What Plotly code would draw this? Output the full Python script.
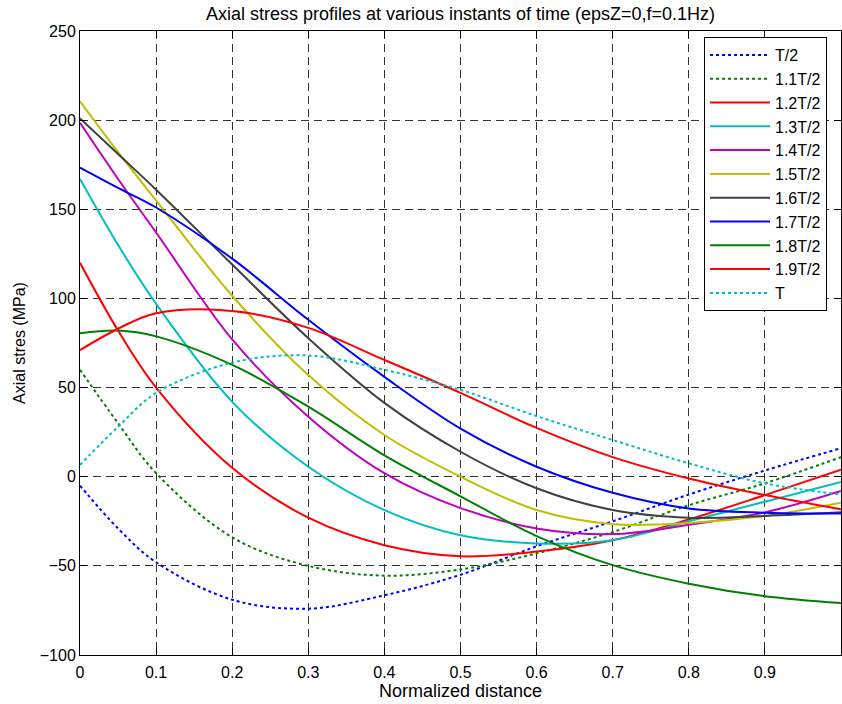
import plotly.graph_objects as go

x_pos = [0, 0.05, 0.1, 0.2, 0.3, 0.4, 0.5, 0.6, 0.7, 0.8, 0.9, 1.0]

s_T2   = [-5, -29, -48, -69, -74, -66.5, -55, -39, -25, -10, 3.5, 16]
s_11T2 = [60, 30, 2, -34, -50, -55.5, -52, -43, -31, -16, -3.7, 11]
s_12T2 = [120, 82, 50, 5, -23, -38.4, -44.6, -42, -35.6, -24, -10.3, 4]
s_13T2 = [167, 130, 97, 42, 5.6, -18.7, -32.8, -37.4, -35.6, -25, -14, -3]
s_14T2 = [198.5, 167, 137, 77, 33.7, 2, -17.6, -29, -32.2, -27, -20, -8]
s_15T2 = [210.5, 182, 155, 101.5, 57, 23.4, 0, -18.7, -26.6, -26, -22, -14.6]
s_16T2 = [201, 181, 161, 119, 77.7, 41.4, 14, -6.5, -18.7, -23, -22, -20]
s_17T2 = [173.4, 162, 151, 122.3, 88, 56, 27, 5.6, -9, -17.8, -20.2, -20.6]
s_18T2 = [80.5, 82, 78.7, 62.7, 39.3, 12, -11, -33.3, -49.6, -60, -67, -70.8]
s_19T2 = [71, 83, 91.7, 93, 83.5, 65.5, 47, 27.4, 11, -1, -10.3, -18.3]
s_T    = [6.6, 28, 47, 64, 68, 60, 48.7, 34, 20.6, 7.5, -3.7, -10]

names = ["T/2", "1.1T/2", "1.2T/2", "1.3T/2", "1.4T/2", "1.5T/2",
         "1.6T/2", "1.7T/2", "1.8T/2", "1.9T/2", "T"]
series = [s_T2, s_11T2, s_12T2, s_13T2, s_14T2, s_15T2,
          s_16T2, s_17T2, s_18T2, s_19T2, s_T]
colors = ["#0000ff", "#008000", "#ff0000", "#00bfbf", "#bf00bf", "#bfbf00",
          "#404040", "#0000ff", "#008000", "#ff0000", "#00bfbf"]
dashes = ["dot", "dot", "solid", "solid", "solid", "solid",
          "solid", "solid", "solid", "solid", "dot"]

x_ticks = [0, 0.1, 0.2, 0.3, 0.4, 0.5, 0.6, 0.7, 0.8, 0.9, 1]
x_ticktext = ["0", "0.1", "0.2", "0.3", "0.4", "0.5", "0.6", "0.7", "0.8", "0.9", "1"]
y_ticks = [-100, -50, 0, 50, 100, 150, 200, 250]

fig = go.Figure()
for n, s, c, d in zip(names, series, colors, dashes):
    fig.add_trace(go.Scatter(
        x=x_pos, y=s, name=n, mode="lines",
        line=dict(color=c, width=2, dash=d, shape="spline", smoothing=1.0),
    ))

FONT = "Liberation Sans, Arial, sans-serif"

fig.update_layout(
    width=842, height=704,
    margin=dict(l=80, r=1, t=31, b=49),
    paper_bgcolor="white", plot_bgcolor="white",
    font=dict(family=FONT, size=16, color="black"),
    title=dict(text="Axial stress profiles at various instants of time (epsZ=0,f=0.1Hz)",
               x=0.5, xref="paper", xanchor="center",
               y=1 - 14 / 704, yref="container", yanchor="middle",
               font=dict(family=FONT, size=18, color="black")),
    showlegend=True,
    legend=dict(x=0.8200, y=0.9904, xanchor="left", yanchor="top",
                bgcolor="white", bordercolor="black", borderwidth=1,
                font=dict(family=FONT, size=16, color="black"),
                itemwidth=60, tracegroupgap=0),
)

fig.update_xaxes(
    range=[0, 1], tickmode="array", tickvals=x_ticks, ticktext=x_ticktext,
    showline=True, linecolor="black", linewidth=1, mirror="ticks",
    ticks="inside", ticklen=7, tickcolor="black", ticklabelstandoff=3,
    showgrid=True, gridcolor="#333333", gridwidth=1, griddash="8px,5px",
    zeroline=False, automargin=False,
    title=dict(text="Normalized distance", standoff=2,
               font=dict(family=FONT, size=18, color="black")),
    tickfont=dict(family=FONT, size=16, color="black"),
)
fig.update_yaxes(
    range=[-100, 250], tickmode="array", tickvals=y_ticks,
    showline=True, linecolor="black", linewidth=1, mirror="ticks",
    ticks="inside", ticklen=7, tickcolor="black",
    showgrid=True, gridcolor="#333333", gridwidth=1, griddash="8px,5px",
    zeroline=False, automargin=False,
    title=dict(text="Axial stres (MPa)", standoff=10,
               font=dict(family=FONT, size=16, color="black")),
    tickfont=dict(family=FONT, size=16, color="black"),
)

fig.write_html("out.html")
